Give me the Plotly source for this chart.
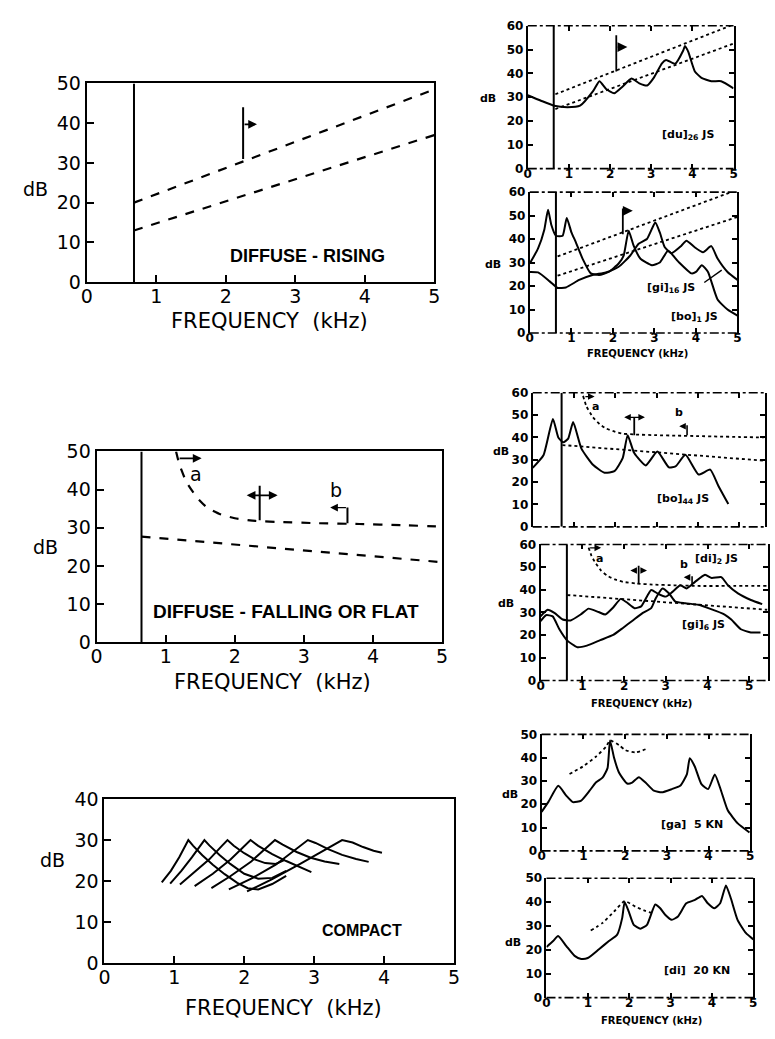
import plotly.graph_objects as go

W, H = 775, 1039

# ---------------- data ----------------
# Panel 1: DIFFUSE - RISING (schematic)
p1_cutoff_khz = 0.68
p1_line_x = [0.68, 5.0]
p1_upper_db = [20, 48.5]
p1_lower_db = [13, 37]

# Panel 2: DIFFUSE - FALLING OR FLAT (schematic)
p2_cutoff_khz = 0.65
p2_upper_x = [1.15, 1.2, 1.3, 1.45, 1.6, 1.8, 2.0, 2.3, 2.7, 3.2, 3.8, 4.4, 5.0]
p2_upper_db = [50, 46.5, 42, 38, 35.3, 33.5, 32.5, 31.8, 31.5, 31.2, 31.0, 30.7, 30.3]
p2_lower_x = [0.65, 5.0]
p2_lower_db = [27.7, 21]

# Panel 3: COMPACT (family of peaked spectra)
compact_x = [
    [0.82, 0.95, 1.07, 1.15, 1.2, 1.27, 1.4, 1.55, 1.72, 1.9, 2.05, 2.2, 2.4, 2.6],
    [0.94, 1.1, 1.25, 1.37, 1.43, 1.5, 1.65, 1.8, 2.0, 2.2, 2.4, 2.6],
    [1.08, 1.3, 1.5, 1.68, 1.76, 1.85, 2.0, 2.15, 2.3, 2.45, 2.58],
    [1.29, 1.55, 1.8, 2.0, 2.09, 2.2, 2.4, 2.6, 2.8, 2.96],
    [1.53, 1.8, 2.1, 2.33, 2.44, 2.55, 2.75, 2.95, 3.15, 3.36],
    [1.78, 2.1, 2.45, 2.75, 2.91, 3.02, 3.2, 3.4, 3.6, 3.78],
    [2.04, 2.4, 2.8, 3.2, 3.4, 3.55, 3.7, 3.85, 3.97],
]
compact_db = [
    [19.7, 22.5, 25.8, 28.5, 30, 28.6, 26.3, 24, 21.7, 19.6, 18.3, 18.0, 19.3, 21.3],
    [19.4, 22.5, 25.8, 28.6, 30, 28.7, 26.3, 24.2, 21.8, 20.6, 20.8, 22.5],
    [19.2, 22.3, 25.3, 28.6, 30, 28.6, 26.8, 25.3, 24.4, 24.2, 25.2],
    [18.8, 21.8, 25.2, 28.5, 30, 28.6, 26.6, 24.9, 23.3, 22.2],
    [18.3, 21.2, 24.8, 28.4, 30, 28.9, 27.1, 25.7, 24.8, 24.2],
    [18.0, 20.6, 24.0, 27.8, 30, 29.3, 27.8, 26.4, 25.4, 24.7],
    [17.5, 20.5, 24.2, 28.0, 30, 29.4, 28.3, 27.4, 26.9],
]

# Panel 4: [du] 26 JS
p4_cutoff_khz = 0.63
du26_x = [0, 0.32, 0.64, 0.96, 1.27, 1.59, 1.74, 1.91, 2.1, 2.3, 2.52, 2.71, 2.9, 3.06,
          3.26, 3.36, 3.58, 3.78, 3.82, 3.9, 4.06, 4.22, 4.46, 4.7, 5.0]
du26_db = [30.8, 28.5, 26.4, 25.8, 26.4, 32.6, 36.7, 33.3, 31.6, 34.4, 37.8, 35.8, 34.9, 38.1,
           44.2, 45.6, 44, 49.7, 51.5, 49, 40.8, 38.1, 36.7, 36.7, 33.7]
p4_tmpl_x = [0.67, 5.0]
p4_upper_db = [31.2, 60.5]
p4_lower_db = [25, 52.5]

# Panel 5: [gi] 16 JS and [bo] 1 JS
p5_cutoff_khz = 0.63
bo1_x = [0, 0.2, 0.35, 0.44, 0.52, 0.63, 0.79, 0.89, 1.0, 1.11, 1.27, 1.47, 1.67, 1.9, 2.14,
         2.26, 2.38, 2.5, 2.66, 2.94, 3.13, 3.33, 3.57, 3.89, 4.0, 4.14, 4.29, 4.52, 4.76, 5.0]
bo1_db = [29.6, 36, 44, 52.5, 46, 41.4, 41.4, 49, 43, 38.6, 31.7, 25.4, 24.7, 26, 29.6,
          33, 43.5, 37.2, 31.7, 28.9, 30, 35, 30.5, 25.4, 26, 28.9, 26, 14.3, 10, 7.4]
gi16_x = [0, 0.2, 0.48, 0.67, 0.87, 1.19, 1.51, 1.83, 2.14, 2.42, 2.62, 2.82, 3.02, 3.13,
          3.25, 3.41, 3.65, 3.77, 3.97, 4.17, 4.37, 4.52, 4.76, 5.0]
gi16_db = [26, 25.8, 22, 19.2, 19.4, 22.6, 24.7, 25.8, 28.2, 33, 38, 40, 47, 42.8,
           36.5, 34, 37.2, 39.3, 36.5, 34.4, 37, 31.7, 26, 22.6]
p5_tmpl_x = [0.67, 5.0]
p5_upper_db = [32.6, 61]
p5_lower_db = [24.4, 49.4]

# Panel 6: [bo] 44 JS
p6_cutoff_khz = 0.7
bo44_x = [0, 0.26, 0.49, 0.62, 0.74, 0.86, 0.98, 1.18, 1.46, 1.74, 1.98, 2.18, 2.3, 2.46,
          2.74, 3.02, 3.3, 3.46, 3.7, 4.02, 4.3, 4.5, 4.74]
bo44_db = [26.4, 32, 48.3, 40, 37.8, 39.5, 46.9, 35, 27.8, 24.2, 24.9, 30.7, 41, 33,
           27.5, 33.7, 26.6, 27, 32.2, 23.4, 25.6, 18.3, 10.2]
p6_upper_x = [1.22, 1.3, 1.46, 1.62, 1.78, 2.0, 2.18, 2.5, 3.0, 3.5, 4.0, 4.5, 5.0, 5.6]
p6_upper_db = [58.6, 54, 49, 46, 44, 42.5, 41.7, 41.3, 41, 40.8, 40.6, 40.4, 40.2, 40]
p6_lower_x = [0.72, 5.6]
p6_lower_db = [36.6, 29.6]

# Panel 7: [di] 2 JS and [gi] 6 JS
p7_cutoff_khz = 0.63
di2_x = [0, 0.17, 0.33, 0.53, 0.72, 0.96, 1.15, 1.39, 1.55, 1.74, 1.92, 2.06, 2.25, 2.41,
         2.65, 2.8, 3.0, 3.16, 3.35, 3.5, 3.7, 3.94, 4.1, 4.33, 4.49, 4.73, 5.04, 5.31]
di2_db = [28.3, 31.2, 29.8, 26.9, 26.5, 29.1, 31.7, 30.2, 29.1, 32.2, 36, 34.5, 31.9, 32.7,
          39.9, 38.4, 37, 39.1, 42, 40.6, 43.5, 46.6, 45.2, 45.6, 42, 38.4, 35.5, 33.7]
gi6_x = [0, 0.13, 0.29, 0.45, 0.64, 0.88, 1.11, 1.43, 1.74, 1.98, 2.21, 2.45, 2.65, 2.76,
         2.92, 3.08, 3.23, 3.47, 3.78, 4.02, 4.41, 4.57, 4.8, 5.04, 5.27]
gi6_db = [26.2, 28.8, 28.3, 22.6, 17.6, 14.7, 15.4, 17.8, 20.1, 23.3, 26.5, 29.8, 31.9, 36.3,
          40.6, 38.4, 34.8, 34.1, 33.4, 31.9, 29.1, 26.9, 22.6, 21.2, 21.2]
p7_upper_x = [1.15, 1.22, 1.31, 1.45, 1.59, 1.78, 1.98, 2.3, 2.68, 3.2, 3.78, 4.5, 5.43]
p7_upper_db = [58.6, 55, 52, 48.5, 46.3, 44.6, 43.5, 42.8, 42.3, 42, 41.7, 41.7, 41.7]
p7_lower_x = [0.64, 5.43]
p7_lower_db = [37.7, 31.2]

# Panel 8: [ga] 5 KN
ga5_x = [0, 0.16, 0.4, 0.59, 0.75, 0.95, 1.15, 1.3, 1.46, 1.58, 1.64, 1.74, 1.86, 2.05, 2.17,
         2.33, 2.49, 2.69, 2.88, 3.12, 3.32, 3.48, 3.55, 3.67, 3.83, 3.99, 4.15, 4.3, 4.46,
         4.7, 4.98]
ga5_db = [16.7, 20.9, 27.9, 23.7, 20.9, 21.6, 25.8, 29.3, 31.4, 35.5, 47.4, 39.7, 33.4, 28.9,
          29.3, 31.6, 29.3, 25.8, 25.1, 26.5, 27.9, 32.8, 39.7, 36.2, 28.6, 26.5, 32.8, 25.8,
          17.4, 11.8, 7.9]
p8_dot_x = [0.67, 0.99, 1.3, 1.54, 1.64, 1.86, 2.01, 2.25, 2.49]
p8_dot_db = [33, 36.2, 40.4, 44.6, 47.4, 45.3, 43.2, 42.2, 43.6]

# Panel 9: [di] 20 KN
di20_x = [0, 0.16, 0.28, 0.48, 0.68, 0.84, 1.0, 1.27, 1.51, 1.71, 1.83, 1.89, 1.99, 2.11,
          2.27, 2.43, 2.63, 2.75, 2.87, 3.03, 3.18, 3.38, 3.58, 3.76, 3.9, 4.06, 4.2, 4.34,
          4.46, 4.62, 4.82, 5.0]
di20_db = [21.2, 23.7, 25.8, 21.6, 17.5, 16.2, 16.6, 20.3, 23.7, 26.4, 33.3, 40.1, 36, 30.5,
           28.9, 30.5, 39, 37.4, 34.7, 32.6, 34, 39.5, 40.8, 42.6, 39.5, 37.4, 39.5, 47,
           41.5, 32.6, 27.1, 24.4]
p9_dot_x = [1.07, 1.35, 1.63, 1.89, 2.15, 2.39, 2.59]
p9_dot_db = [28.1, 31.2, 36, 40.4, 38.1, 36.3, 35.3]

freq_ticks = [0, 1, 2, 3, 4, 5]

# ---------------- layout helpers ----------------
fig = go.Figure()

# panel: (left px, right px, top px, bottom px, xmax, ymax, small, show x labels)
panels = {
    1: (82, 435, 74, 277, 5, 50, False, True),
    2: (92, 443, 450, 645, 5, 50, False, True),
    3: (100, 455, 805, 973, 5, 40, False, True),
    4: (530, 739, 15, 161, 5, 60, True, True),
    5: (532, 743, 185, 329, 5, 60, True, True),
    6: (535, 771, 390, 527, 5.63, 60, True, False),
    7: (543, 774, 545, 684, 5.45, 60, True, True),
    8: (544, 756, 739, 858, 5, 50, True, True),
    9: (549, 759, 886, 1008, 5, 50, True, True),
}

BIG = dict(family="DejaVu Sans", size=19, color="black")
SMALL = dict(family="DejaVu Sans", size=12, color="black", weight="bold")

def ax_names(i):
    return ("x" if i == 1 else f"x{i}", "y" if i == 1 else f"y{i}")

layout = {}
shapes = []
for i, (l, r, t, b, xmax, ymax, small, showx) in panels.items():
    xn, yn = ax_names(i)
    key_x = "xaxis" if i == 1 else f"xaxis{i}"
    key_y = "yaxis" if i == 1 else f"yaxis{i}"
    font = SMALL if small else BIG
    layout[key_x] = dict(
        domain=[l / W, r / W], range=[0, xmax], anchor=yn,
        tickvals=freq_ticks, ticktext=[str(v) for v in freq_ticks] if showx else [""] * 6,
        ticks="inside", ticklen=5 if small else 7, tickwidth=2, tickcolor="black",
        showline=not small, linecolor="black", linewidth=2, mirror="ticks" if small else True,
        showgrid=False, zeroline=False, tickfont=font, fixedrange=True,
        ticklabelstandoff=-4,
    )
    layout[key_y] = dict(
        domain=[1 - b / H, 1 - t / H], range=[0, ymax], anchor=xn,
        tickvals=list(range(0, ymax + 1, 10)),
        ticks="inside", ticklen=5 if small else 7, tickwidth=2, tickcolor="black",
        showline=True, linecolor="black", linewidth=2, mirror="ticks" if small else True,
        showgrid=False, zeroline=False, tickfont=font, fixedrange=True,
    )
    if small:
        for yy in (0, 1):
            shapes.append(dict(type="line", xref=f"{xn} domain", yref=f"{yn} domain",
                               x0=0, x1=1, y0=yy, y1=yy,
                               line=dict(color="black", width=1.6, dash="dashdot")))


def line(i, x, y, dash="solid", width=2.0, shape="linear"):
    xn, yn = ax_names(i)
    fig.add_trace(go.Scatter(x=x, y=y, mode="lines", xaxis=xn, yaxis=yn,
                             line=dict(color="black", width=width, dash=dash, shape=shape,
                                       smoothing=0.5),
                             hoverinfo="skip", showlegend=False))


annotations = []


def arrow(i, x0, y0, x1, y1, both=False, width=1.6, head=2):
    xn, yn = ax_names(i)
    annotations.append(dict(x=x1, y=y1, ax=x0, ay=y0, xref=xn, yref=yn, axref=xn, ayref=yn,
                            text="", showarrow=True, arrowhead=head, arrowsize=1.1,
                            arrowwidth=width, arrowcolor="black",
                            arrowside="end+start" if both else "end"))


def text(i, x, y, s, size=16, family="DejaVu Sans", weight="normal", xanchor="center"):
    xn, yn = ax_names(i)
    annotations.append(dict(x=x, y=y, xref=xn, yref=yn, text=s, showarrow=False,
                            xanchor=xanchor, yanchor="middle",
                            font=dict(family=family, size=size, color="black", weight=weight)))


def ptext(px, py, s, size, weight="normal", family="DejaVu Sans"):
    annotations.append(dict(x=px / W, y=1 - py / H, xref="paper", yref="paper", text=s,
                            showarrow=False, xanchor="center", yanchor="middle",
                            font=dict(family=family, size=size, color="black", weight=weight)))


# ---------------- panel 1 ----------------
line(1, [p1_cutoff_khz, p1_cutoff_khz], [0, 50], width=2)
line(1, p1_line_x, p1_upper_db, dash="dash", width=2.2)
line(1, p1_line_x, p1_lower_db, dash="dash", width=2.2)
line(1, [2.25, 2.25], [31, 44], width=2)
arrow(1, 2.25, 39.7, 2.45, 39.7)
text(1, 3.17, 6.6, "DIFFUSE - RISING", size=18, family="Liberation Sans", weight="bold")

# ---------------- panel 2 ----------------
line(2, [p2_cutoff_khz, p2_cutoff_khz], [0, 50], width=2)
line(2, p2_upper_x, p2_upper_db, dash="dash", width=2.2, shape="spline")
line(2, p2_lower_x, p2_lower_db, dash="dash", width=2.2)
arrow(2, 1.18, 48.2, 1.52, 48.2)
text(2, 1.44, 44, "a", size=19)
line(2, [2.36, 2.36], [32, 41], width=2)
arrow(2, 2.15, 38.5, 2.62, 38.5, both=True)
text(2, 3.47, 40, "b", size=19)
line(2, [3.63, 3.63], [31.2, 35.3], width=2)
arrow(2, 3.63, 35.3, 3.38, 35.3, width=1.4)
text(2, 2.74, 8.2, "DIFFUSE - FALLING OR FLAT", size=19, family="Liberation Sans", weight="bold")

# ---------------- panel 3 ----------------
for cx, cy in zip(compact_x, compact_db):
    line(3, cx, cy, width=2)
text(3, 3.69, 8.1, "COMPACT", size=16, family="Liberation Sans", weight="bold")

# ---------------- panel 4 ----------------
line(4, [p4_cutoff_khz, p4_cutoff_khz], [0, 60], width=2)
line(4, p4_tmpl_x, p4_upper_db, dash="dot", width=1.8)
line(4, p4_tmpl_x, p4_lower_db, dash="dot", width=1.8)
line(4, du26_x, du26_db, width=2, shape="spline")
line(4, [2.15, 2.15], [40.8, 56], width=1.8)
arrow(4, 2.15, 51, 2.42, 51, width=1.8)
text(4, 3.9, 14, "[du]<sub>26</sub> JS", size=11, weight="bold")

# ---------------- panel 5 ----------------
line(5, [p5_cutoff_khz, p5_cutoff_khz], [0, 60], width=2)
line(5, p5_tmpl_x, p5_upper_db, dash="dot", width=1.8)
line(5, p5_tmpl_x, p5_lower_db, dash="dot", width=1.8)
line(5, bo1_x, bo1_db, width=2, shape="spline")
line(5, gi16_x, gi16_db, width=2, shape="spline")
line(5, [2.24, 2.24], [42, 53], width=1.8)
arrow(5, 2.24, 52, 2.48, 52, width=1.8)
text(5, 3.41, 19, "[gi]<sub>16</sub> JS", size=11, weight="bold")
text(5, 3.97, 6.7, "[bo]<sub>1</sub> JS", size=11, weight="bold")
line(5, [4.2, 4.62], [21.5, 26.8], width=1.4)

# ---------------- panel 6 ----------------
line(6, [p6_cutoff_khz, p6_cutoff_khz], [0, 60], width=2)
line(6, p6_upper_x, p6_upper_db, dash="dot", width=1.8, shape="spline")
line(6, p6_lower_x, p6_lower_db, dash="dot", width=1.8)
line(6, bo44_x, bo44_db, width=2, shape="spline")
arrow(6, 1.24, 58.3, 1.5, 58.3, width=1.2)
text(6, 1.52, 54, "a", size=11, weight="bold")
line(6, [2.46, 2.46], [41, 49], width=1.8)
arrow(6, 2.18, 49, 2.72, 49, both=True, width=1.2)
text(6, 3.54, 51, "b", size=11, weight="bold")
line(6, [3.74, 3.74], [41, 45.5], width=1.6)
arrow(6, 3.72, 45, 3.55, 45, width=1.2)
text(6, 3.64, 12.4, "[bo]<sub>44</sub> JS", size=11, weight="bold")

# ---------------- panel 7 ----------------
line(7, [p7_cutoff_khz, p7_cutoff_khz], [0, 60], width=2)
line(7, p7_upper_x, p7_upper_db, dash="dot", width=1.8, shape="spline")
line(7, p7_lower_x, p7_lower_db, dash="dot", width=1.8)
line(7, di2_x, di2_db, width=2, shape="spline")
line(7, gi6_x, gi6_db, width=2, shape="spline")
arrow(7, 1.15, 58.5, 1.45, 58.5, width=1.2)
text(7, 1.42, 54, "a", size=11, weight="bold")
line(7, [2.35, 2.35], [42.7, 50.6], width=1.8)
arrow(7, 2.3, 48.5, 2.15, 48.5, width=1.2)
arrow(7, 2.4, 48.5, 2.55, 48.5, width=1.2)
text(7, 3.43, 51, "b", size=11, weight="bold")
line(7, [3.63, 3.63], [41.7, 46], width=1.6)
arrow(7, 3.6, 45.5, 3.43, 45.5, width=1.2)
text(7, 4.22, 53.5, "[di]<sub>2</sub> JS", size=11, weight="bold")
text(7, 3.9, 24.7, "[gi]<sub>6</sub> JS", size=11, weight="bold")

# ---------------- panel 8 ----------------
line(8, p8_dot_x, p8_dot_db, dash="dot", width=1.8, shape="spline")
line(8, ga5_x, ga5_db, width=2, shape="spline")
text(8, 3.6, 11.2, "[ga]  5 KN", size=11, weight="bold")

# ---------------- panel 9 ----------------
line(9, p9_dot_x, p9_dot_db, dash="dot", width=1.8, shape="spline")
line(9, di20_x, di20_db, width=2, shape="spline")
text(9, 3.64, 11.4, "[di]  20 KN", size=11, weight="bold")

# ---------------- axis titles ----------------
ptext(30, 182, "dB", 19)
ptext(40, 548, "dB", 19)
ptext(47, 867, "dB", 19)
ptext(268, 317, "FREQUENCY  (kHz)", 21)
ptext(271, 686, "FREQUENCY  (kHz)", 21)
ptext(282, 1019, "FREQUENCY  (kHz)", 21)
for px, py in [(490, 89), (495, 259), (503, 450), (508, 605), (512, 800), (515, 952)]:
    ptext(px, py, "dB", 11, weight="bold")
for px, py in [(641, 350), (645, 707), (656, 1031)]:
    ptext(px, py, "FREQUENCY (kHz)", 10, weight="bold")

fig.update_layout(
    width=W, height=H, margin=dict(l=0, r=0, t=0, b=0),
    paper_bgcolor="white", plot_bgcolor="white", showlegend=False,
    annotations=annotations, shapes=shapes, **layout,
)

fig.write_html("out.html")
